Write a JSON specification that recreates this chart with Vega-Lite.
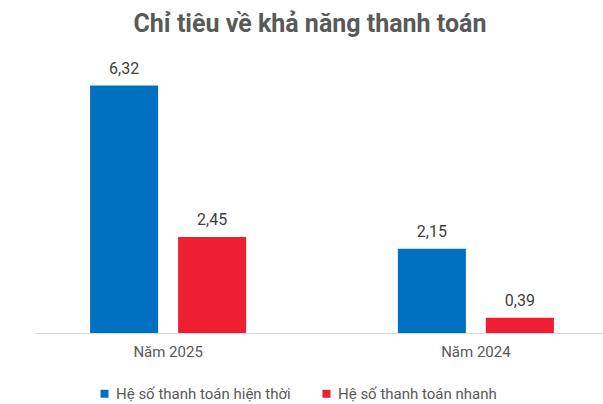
{
  "$schema": "https://vega.github.io/schema/vega-lite/v6.json",
  "width": 574,
  "height": 274,
  "autosize": {"type": "none"},
  "padding": {"left": 35, "top": 59, "right": -6, "bottom": 71},
  "background": "white",
  "config": {
    "view": {"stroke": null},
    "font": "Roboto",
    "locale": {"number": {"decimal": ",", "thousands": ".", "grouping": [3], "currency": ["", ""]}}
  },
  "title": {
    "text": "Chỉ tiêu về khả năng thanh toán",
    "fontSize": 25,
    "fontWeight": "bold",
    "color": "#595959",
    "font": "Roboto",
    "anchor": "middle",
    "dx": -12,
    "offset": 22
  },
  "data": {
    "values": [
      {"year": "Năm 2025", "metric": "Hệ số thanh toán hiện thời", "value": 6.32},
      {"year": "Năm 2025", "metric": "Hệ số thanh toán nhanh", "value": 2.45},
      {"year": "Năm 2024", "metric": "Hệ số thanh toán hiện thời", "value": 2.15},
      {"year": "Năm 2024", "metric": "Hệ số thanh toán nhanh", "value": 0.39}
    ]
  },
  "encoding": {
    "x": {
      "field": "year",
      "type": "nominal",
      "sort": ["Năm 2025", "Năm 2024"],
      "scale": {"paddingInner": 0.493, "paddingOuter": 0.179},
      "axis": {
        "title": null,
        "labelAngle": 0,
        "domainColor": "#d9d9d9",
        "domainWidth": 1,
        "ticks": false,
        "labelFontSize": 15,
        "labelColor": "#595959",
        "labelFont": "Roboto",
        "labelPadding": 11
      }
    },
    "xOffset": {
      "field": "metric",
      "type": "nominal",
      "sort": ["Hệ số thanh toán hiện thời", "Hệ số thanh toán nhanh"],
      "scale": {"paddingInner": 0.227, "paddingOuter": 0}
    },
    "y": {
      "field": "value",
      "type": "quantitative",
      "scale": {"domain": [0, 7]},
      "axis": null
    }
  },
  "layer": [
    {
      "mark": {"type": "bar"},
      "encoding": {
        "color": {
          "field": "metric",
          "type": "nominal",
          "sort": ["Hệ số thanh toán hiện thời", "Hệ số thanh toán nhanh"],
          "scale": {
            "domain": ["Hệ số thanh toán hiện thời", "Hệ số thanh toán nhanh"],
            "range": ["#0070c0", "#ee1f33"]
          },
          "legend": {
            "title": null,
            "orient": "none",
            "direction": "horizontal",
            "legendX": 62,
            "legendY": 327,
            "symbolType": "square",
            "symbolSize": 64,
            "symbolStrokeWidth": 0,
            "labelFontSize": 15,
            "labelColor": "#595959",
            "labelFont": "Roboto",
            "labelOffset": 4,
            "labelLimit": 400,
            "columnPadding": 28
          }
        }
      }
    },
    {
      "mark": {"type": "text", "dy": -17, "fontSize": 16, "color": "#404040", "font": "Roboto"},
      "encoding": {
        "text": {"field": "value", "type": "quantitative", "format": ".2f"}
      }
    }
  ]
}
